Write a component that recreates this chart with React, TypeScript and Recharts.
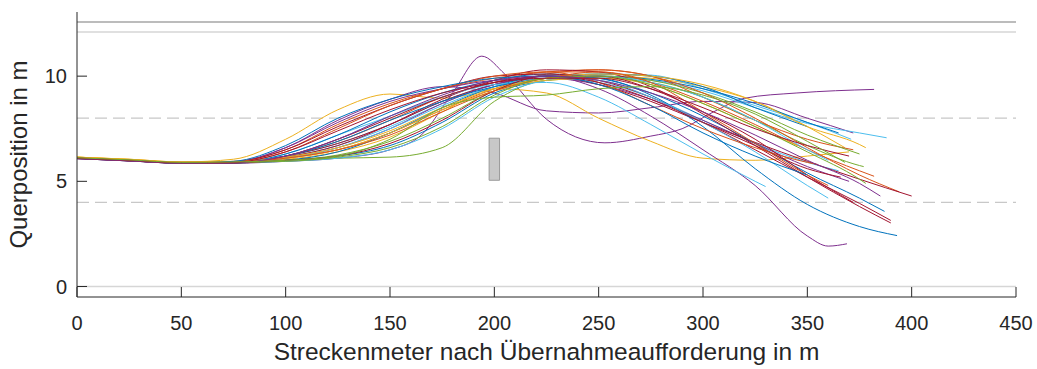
import React from 'react';
import { LineChart, Line, XAxis, YAxis, ReferenceLine, ReferenceArea } from 'recharts';

// Streckenmeter grid that the lateral positions are sampled on
const distanceGrid = [0, 25, 50, 75, 100, 125, 150, 175, 200, 225, 250, 275, 300, 325, 350, 375, 400];
const xTicks = [0, 50, 100, 150, 200, 250, 300, 350, 400, 450];
const yTicks = [0, 5, 10];

// lane markings (solid / dashed) and the obstacle
const solidLanes = [0, 12.1];
const dashedLanes = [4, 8];
const outerEdge = 12.57;
const obstacle = { x1: 197.5, x2: 202.5, y1: 5.05, y2: 7.05 };

// one array per drive, last value sits at the run's end distance
const run01 = [6.15, 6.05, 5.92, 6.05, 7.0, 8.4, 9.15, 8.95, 9.4, 9.9, 10.0, 9.9, 9.5, 8.8, 7.6, 6.6];
const run02 = [6.1, 6.0, 5.88, 5.92, 6.6, 7.9, 8.9, 9.5, 9.2, 8.35, 8.25, 8.5, 8.8, 8.75, 8.0, 7.3];
const run03 = [6.08, 5.98, 5.86, 5.86, 5.95, 6.1, 6.5, 7.2, 9.2, 10.95, 10.1, 7.95, 6.83, 7.15, 7.5, 8.3, 8.95, 9.2, 9.37];
const run03X = [0, 25, 50, 75, 100, 125, 150, 165, 180, 194, 205, 225, 253, 275, 290, 305, 320, 345, 382];
const run04 = [6.1, 6.0, 5.88, 5.9, 6.3, 7.2, 8.1, 9.0, 9.7, 10.0, 10.1, 10.05, 9.4, 8.6, 7.8, 7.0];
const run05 = [6.12, 6.0, 5.9, 5.92, 6.2, 6.8, 7.7, 8.8, 9.6, 9.9, 9.95, 9.8, 9.3, 8.5, 7.75, 7.3, 7.07];
const run06 = [6.1, 5.98, 5.87, 5.88, 6.0, 6.2, 6.7, 7.8, 9.2, 9.8, 10.0, 9.85, 9.4, 8.7, 7.8, 7.3];
const run07 = [6.13, 6.02, 5.9, 5.95, 6.5, 7.7, 8.7, 9.4, 9.9, 10.2, 10.3, 10.0, 9.0, 7.9, 7.0, 6.5];
const run08 = [6.15, 6.05, 5.92, 5.95, 6.05, 6.4, 7.1, 8.3, 9.4, 9.2, 8.0, 6.9, 6.1, 6.0, 6.2, 6.4];
const run09 = [6.1, 6.0, 5.88, 5.9, 6.0, 6.25, 6.9, 8.0, 9.3, 9.9, 10.0, 9.8, 9.2, 8.3, 7.2, 6.3];
const run10 = [6.12, 6.02, 5.9, 5.9, 6.0, 6.1, 6.15, 6.6, 8.8, 9.8, 9.9, 9.7, 9.0, 7.9, 6.7, 5.75, 5.7];
const run11 = [6.1, 5.98, 5.87, 5.88, 6.2, 6.9, 7.9, 9.0, 9.7, 10.2, 10.2, 9.7, 8.8, 7.7, 6.5, 5.5, 5.24];
const run12 = [6.1, 6.0, 5.88, 5.9, 6.15, 6.7, 7.6, 8.7, 9.6, 9.9, 9.7, 9.0, 7.9, 6.8, 5.9, 5.5];
const run13 = [6.08, 5.97, 5.86, 5.92, 6.6, 7.8, 8.8, 9.4, 9.8, 9.9, 9.6, 8.9, 7.9, 6.8, 5.7, 5.0];
const run14 = [6.13, 6.02, 5.9, 5.9, 6.1, 6.5, 7.3, 8.4, 9.4, 10.1, 10.3, 10.0, 9.2, 8.0, 6.6, 5.3, 4.5];
const run15 = [6.1, 6.0, 5.88, 5.9, 6.2, 6.8, 7.7, 8.8, 9.6, 10.0, 9.6, 8.8, 7.8, 6.85, 5.95, 5.1, 4.3];
const run16 = [6.08, 5.97, 5.86, 5.87, 6.3, 7.2, 8.3, 9.2, 9.8, 10.1, 9.9, 9.2, 8.1, 6.8, 5.4, 4.2, 3.57];
const run17 = [6.1, 6.0, 5.88, 5.9, 6.15, 6.7, 7.7, 8.9, 9.8, 10.3, 10.2, 9.5, 8.2, 6.7, 5.2, 3.8, 3.02];
const run18 = [6.1, 5.98, 5.87, 5.92, 6.5, 7.6, 8.6, 9.4, 10.0, 10.1, 9.8, 9.0, 7.8, 6.5, 5.2, 3.95, 3.14];
const run19 = [6.12, 6.0, 5.88, 5.88, 6.0, 6.4, 7.3, 8.5, 9.5, 10.0, 9.9, 9.1, 7.6, 5.6, 3.9, 2.85, 2.42];
const run20 = [6.1, 5.98, 5.87, 5.88, 6.1, 6.6, 7.5, 8.7, 9.6, 10.0, 9.4, 8.1, 6.5, 4.8, 2.4, 1.92, 2.03];
const run20X = [0, 25, 50, 75, 100, 125, 150, 175, 200, 225, 250, 275, 300, 325, 350, 360, 369];
const run21 = [6.1, 6.0, 5.88, 5.9, 6.2, 7.0, 8.1, 9.0, 9.6, 9.7, 9.0, 7.7, 6.3, 5.0, 4.75];
const run22 = [6.12, 6.0, 5.88, 5.9, 6.1, 6.6, 7.5, 8.6, 9.5, 9.9, 9.8, 9.0, 7.8, 6.4, 4.8, 4.2];
const run23 = [6.1, 5.98, 5.87, 5.88, 5.95, 6.1, 6.5, 7.5, 9.0, 9.8, 10.0, 9.7, 9.0, 7.9, 6.5, 6.0];
const run24 = [6.12, 6.0, 5.88, 5.92, 6.4, 7.5, 8.6, 9.4, 10.0, 10.2, 9.7, 8.6, 7.5, 6.6, 5.9, 5.8];
const run25 = [6.15, 6.03, 5.9, 5.92, 6.1, 6.5, 7.3, 8.4, 9.3, 9.8, 9.9, 9.6, 8.7, 7.6, 6.7];
const run26 = [6.1, 6.0, 5.88, 5.9, 6.2, 6.9, 7.9, 8.8, 9.5, 9.9, 10.1, 10.0, 9.5, 8.5, 7.6];
const run27 = [6.15, 6.04, 5.91, 5.93, 6.15, 6.6, 7.4, 8.5, 9.4, 9.9, 10.1, 10.0, 9.6, 8.8, 7.6, 6.75, 6.6];
const run28 = [6.1, 5.98, 5.87, 5.88, 6.2, 7.0, 8.0, 9.0, 9.7, 10.0, 9.7, 8.9, 7.8, 6.7, 5.6, 5.2];
const run29 = [6.08, 5.97, 5.86, 5.87, 6.0, 6.2, 6.8, 7.9, 9.3, 10.0, 10.0, 9.4, 8.3, 7.0, 5.3, 4.0];
const run30 = [6.12, 6.0, 5.88, 5.9, 6.1, 6.5, 7.2, 8.3, 9.3, 9.9, 10.2, 9.7, 8.3, 6.8, 5.3, 4.8];
const run31 = [6.1, 5.99, 5.87, 5.95, 6.7, 8.0, 8.9, 9.5, 9.9, 10.0, 9.6, 8.6, 7.3, 6.2, 5.3];
const run32 = [6.1, 6.0, 5.88, 5.9, 5.95, 6.15, 6.6, 7.6, 9.1, 9.9, 10.0, 9.6, 8.7, 7.6, 6.4, 5.1, 4.9];
const run33 = [6.08, 5.97, 5.86, 5.88, 6.2, 7.0, 8.1, 9.1, 9.8, 10.0, 9.8, 9.2, 8.3, 7.2, 6.0, 4.9, 4.3];
const run34 = [6.1, 6.0, 5.88, 5.9, 6.4, 7.4, 8.4, 9.2, 9.7, 9.9, 9.9, 9.4, 8.5, 7.5, 6.7, 6.2];
const run35 = [6.12, 6.02, 5.9, 5.92, 6.0, 6.2, 7.0, 8.5, 9.0, 9.1, 9.4, 9.5, 9.1, 8.2, 6.9, 5.9];

const runs = [
  run01, run02, run03, run04, run05, run06, run07, run08, run09, run10,
  run11, run12, run13, run14, run15, run16, run17, run18, run19, run20,
  run21, run22, run23, run24, run25, run26, run27, run28, run29, run30,
  run31, run32, run33, run34, run35,
];
// distance where each drive stops
const runEnds = [
  368, 372, 382, 371, 388, 365, 372, 370, 375, 377,
  382, 365, 370, 394, 400, 387, 390, 390, 393, 369,
  330, 360, 360, 355, 345, 350, 378, 366, 372, 360,
  350, 378, 385, 370, 368,
];
const customX: Record<number, number[]> = { 2: run03X, 19: run20X };

const B = '#0072BD', O = '#D95319', Y = '#EDB120', P = '#7E2F8E', G = '#77AC30', C = '#4DBEEE', R = '#A2142F';
const runColors = [
  Y, P, P, C, C, B, O, Y, G, G,
  O, C, P, O, R, B, R, R, B, P,
  C, C, C, O, Y, B, Y, R, R, O,
  B, G, P, R, G,
];

const toPoints = (ys: number[], idx: number) => {
  const xs = customX[idx];
  if (xs) return ys.map((y, i) => ({ x: xs[i], y }));
  return ys.map((y, i) => ({ x: i === ys.length - 1 ? runEnds[idx] : distanceGrid[i], y }));
};

const AXIS = '#262626';
const FONT = '"Liberation Sans", Arial, Helvetica, sans-serif';
const Y_MIN = -0.5;
const X_TICK_LEN = 0.475; // ~10px inward, in y units
const Y_TICK_LEN = 4.8; // ~10px inward, in x units

export default function App() {
  return (
    <div style={{ position: 'absolute', left: 0, top: 0, background: '#fff' }}>
      <LineChart width={1037} height={369} margin={{ top: 12, right: 21, bottom: 0, left: 0 }}>
        <XAxis
          type="number"
          dataKey="x"
          domain={[0, 450]}
          ticks={xTicks}
          allowDataOverflow
          height={72}
          stroke={AXIS}
          tickLine={false}
          tickSize={-10}
          tickMargin={29}
          tick={{ fill: AXIS, fontSize: 20, fontFamily: FONT }}
          label={{
            value: 'Streckenmeter nach Übernahmeaufforderung in m',
            position: 'insideBottom',
            offset: 9,
            style: { fill: AXIS, fontSize: 24.5, fontFamily: FONT },
          }}
        />
        <YAxis
          type="number"
          domain={[Y_MIN, 13.05]}
          ticks={yTicks}
          allowDataOverflow
          width={77}
          stroke={AXIS}
          tickLine={false}
          tickSize={-10}
          tickMargin={20}
          tick={{ fill: AXIS, fontSize: 20, fontFamily: FONT }}
          label={{
            value: 'Querposition in m',
            angle: -90,
            position: 'insideLeft',
            offset: 18,
            style: { textAnchor: 'middle', fill: AXIS, fontSize: 24, fontFamily: FONT },
          }}
        />
        {solidLanes.map((v) => (
          <ReferenceLine key={`s-${v}`} y={v} stroke="#d6d6d6" strokeWidth={1.5} />
        ))}
        {dashedLanes.map((v) => (
          <ReferenceLine key={`d-${v}`} y={v} stroke="#c8c8c8" strokeWidth={1.2} strokeDasharray="12 6" />
        ))}
        <ReferenceLine y={outerEdge} stroke="#a6a6a6" strokeWidth={1.5} />
        {xTicks.map((v) => (
          <ReferenceLine
            key={`xt-${v}`}
            segment={[{ x: v, y: Y_MIN }, { x: v, y: Y_MIN + X_TICK_LEN }]}
            stroke={AXIS}
            strokeWidth={1}
          />
        ))}
        {yTicks.map((v) => (
          <ReferenceLine
            key={`yt-${v}`}
            segment={[{ x: 0, y: v }, { x: Y_TICK_LEN, y: v }]}
            stroke={AXIS}
            strokeWidth={1}
          />
        ))}
        {runs.map((ys, i) => (
          <Line
            key={`run-${i}`}
            data={toPoints(ys, i)}
            dataKey="y"
            type="monotone"
            stroke={runColors[i]}
            strokeWidth={1}
            dot={false}
            activeDot={false}
            isAnimationActive={false}
          />
        ))}
        <ReferenceArea
          x1={obstacle.x1}
          x2={obstacle.x2}
          y1={obstacle.y1}
          y2={obstacle.y2}
          fill="#c8c8c8"
          fillOpacity={1}
          stroke="#9a9a9a"
          strokeWidth={1}
        />
      </LineChart>
    </div>
  );
}
